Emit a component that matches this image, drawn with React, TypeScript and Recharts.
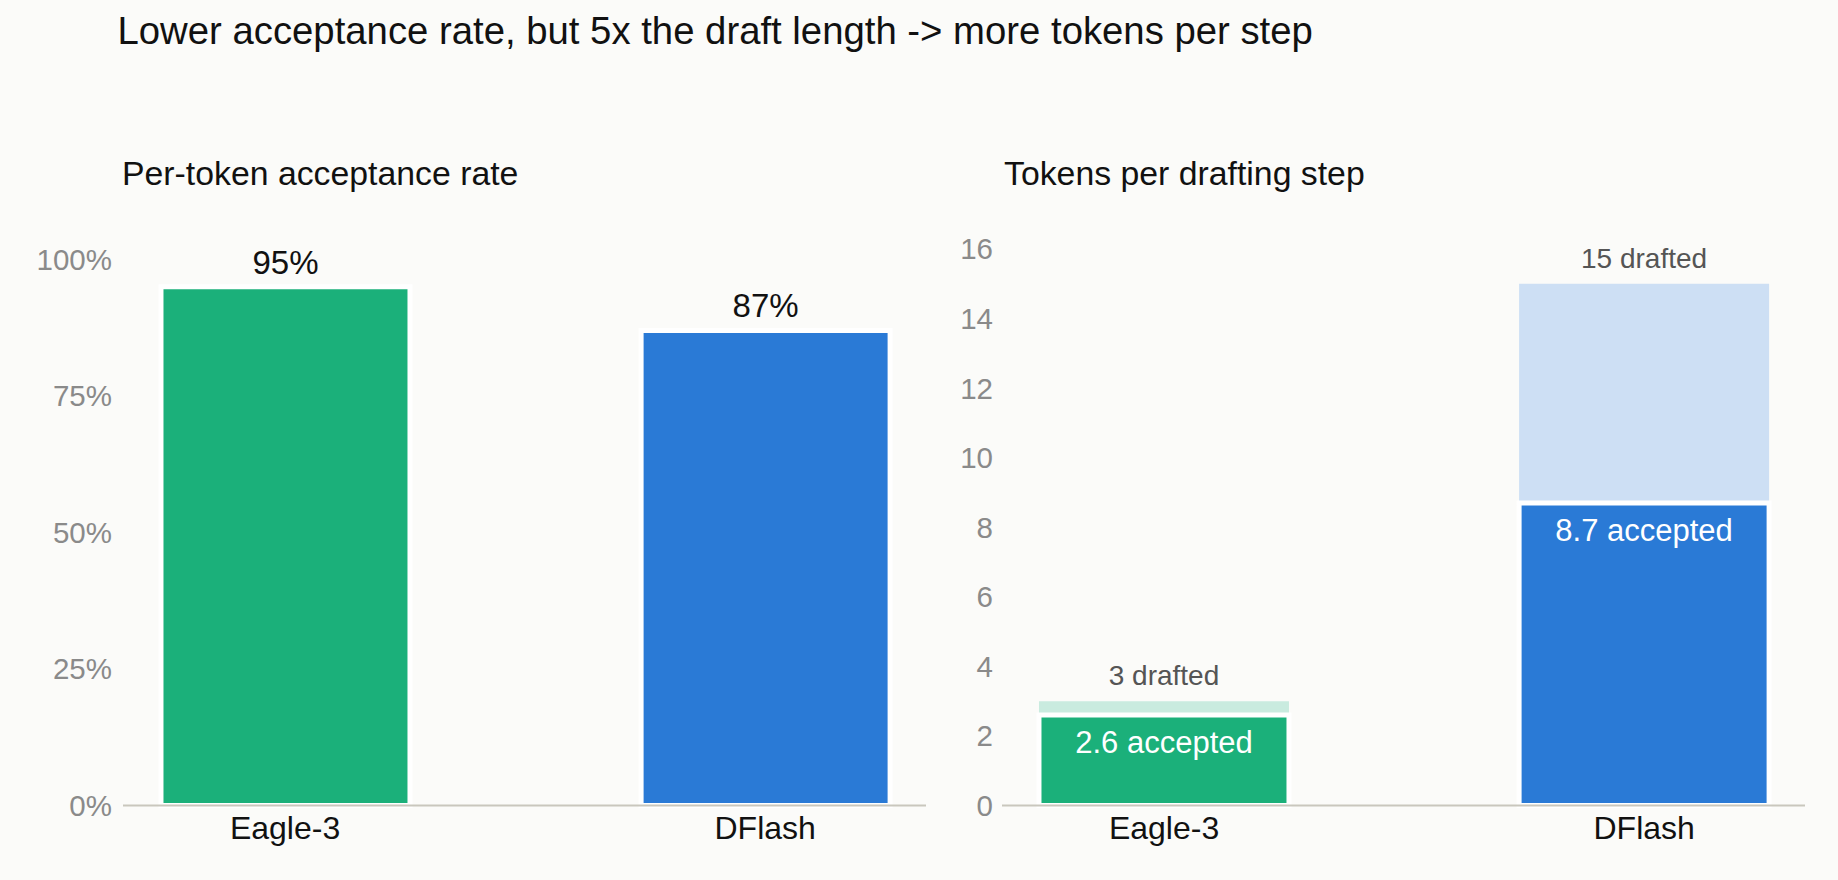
import React from 'react';
import { BarChart, Bar, XAxis, YAxis, LabelList, Cell } from 'recharts';

const categories = ['Eagle-3', 'DFlash'];
const acceptanceRate = [95, 87];
const draftedTokens = [3, 15];
const acceptedTokens = [2.6, 8.7];
const rateTicks = [0, 25, 50, 75, 100];
const tokenTicks = [0, 2, 4, 6, 8, 10, 12, 14, 16];

const mainColors = ['#1bb07a', '#2a7ad6'];
const lightColors = ['#c9ebdf', '#cddff4'];

const rateData = categories.map((name, i) => ({ x: i, name, rate: acceptanceRate[i] }));
const tokenData = categories.map((name, i) => ({
  x: i,
  name,
  drafted: draftedTokens[i],
  accepted: acceptedTokens[i],
}));

const FONT = '"Liberation Sans", Arial, Helvetica, sans-serif';
const BG = '#fbfbf9';
const xDomain: [number, number] = [-0.3375, 1.335];

const xAxisProps = {
  dataKey: 'x',
  type: 'number' as const,
  domain: xDomain,
  ticks: [0, 1],
  allowDataOverflow: true,
  interval: 0 as const,
  tickFormatter: (v: number) => categories[v] ?? '',
  tickLine: false,
  tickSize: 6,
  tickMargin: 5,
  tick: { fill: '#111', fontSize: 32 },
};

const yTick = { fill: '#8a8a8a', fontSize: 29.5 };

export default function App() {
  return (
    <div
      style={{
        position: 'absolute',
        left: 0,
        top: 0,
        width: 1838,
        height: 880,
        background: BG,
        fontFamily: FONT,
        overflow: 'hidden',
      }}
    >
      <div
        style={{
          position: 'absolute',
          left: 117.5,
          top: 12,
          fontSize: 38.3,
          lineHeight: 1,
          color: '#111',
          whiteSpace: 'nowrap',
        }}
      >
        Lower acceptance rate, but 5x the draft length -&gt; more tokens per step
      </div>
      <div
        style={{
          position: 'absolute',
          left: 122,
          top: 156.5,
          fontSize: 33.8,
          lineHeight: 1,
          color: '#111',
          whiteSpace: 'nowrap',
        }}
      >
        Per-token acceptance rate
      </div>
      <div
        style={{
          position: 'absolute',
          left: 1004,
          top: 156.5,
          fontSize: 33.8,
          lineHeight: 1,
          color: '#111',
          whiteSpace: 'nowrap',
        }}
      >
        Tokens per drafting step
      </div>

      {/* left: acceptance rate */}
      <div style={{ position: 'absolute', left: 0, top: 0 }}>
        <BarChart
          width={1000}
          height={880}
          data={rateData}
          margin={{ top: 259.5, right: 74, bottom: 44.5, left: 23 }}
        >
          <XAxis {...xAxisProps} axisLine={{ stroke: '#c9c7bd', strokeWidth: 2 }} />
          <YAxis
            width={100}
            domain={[0, 100]}
            ticks={rateTicks}
            tickFormatter={(v: number) => `${v}%`}
            axisLine={false}
            tickLine={false}
            tickSize={6}
            tickMargin={5}
            tick={yTick}
          />
          <Bar dataKey="rate" barSize={249} stroke="#ffffff" strokeWidth={5} isAnimationActive={false}>
            {rateData.map((d, i) => (
              <Cell key={d.name} fill={mainColors[i]} />
            ))}
            <LabelList
              dataKey="rate"
              position="top"
              offset={13}
              formatter={(v: any) => `${v}%`}
              fill="#111"
              fontSize={33}
            />
          </Bar>
        </BarChart>
      </div>

      {/* right: tokens per step */}
      <div style={{ position: 'absolute', left: 900, top: 0 }}>
        <BarChart
          width={938}
          height={880}
          data={tokenData}
          margin={{ top: 249, right: 33, bottom: 44.5, left: 2 }}
        >
          <XAxis {...xAxisProps} xAxisId="main" axisLine={{ stroke: '#c9c7bd', strokeWidth: 2 }} />
          <XAxis {...xAxisProps} xAxisId="bg" hide height={0} axisLine={false} />
          <YAxis
            width={100}
            domain={[0, 16]}
            ticks={tokenTicks}
            axisLine={false}
            tickLine={false}
            tickSize={6}
            tickMargin={3}
            tick={yTick}
          />
          <Bar dataKey="drafted" xAxisId="bg" barSize={250} isAnimationActive={false}>
            {tokenData.map((d, i) => (
              <Cell key={d.name} fill={lightColors[i]} />
            ))}
            <LabelList
              dataKey="drafted"
              position="top"
              offset={16}
              formatter={(v: any) => `${v} drafted`}
              fill="#555"
              fontSize={28}
            />
          </Bar>
          <Bar
            dataKey="accepted"
            xAxisId="main"
            barSize={250}
            stroke="#ffffff"
            strokeWidth={5}
            isAnimationActive={false}
          >
            {tokenData.map((d, i) => (
              <Cell key={d.name} fill={mainColors[i]} />
            ))}
            <LabelList
              dataKey="accepted"
              position="insideTop"
              offset={16}
              formatter={(v: any) => `${v} accepted`}
              fill="#ffffff"
              fontSize={31}
            />
          </Bar>
        </BarChart>
      </div>
    </div>
  );
}
